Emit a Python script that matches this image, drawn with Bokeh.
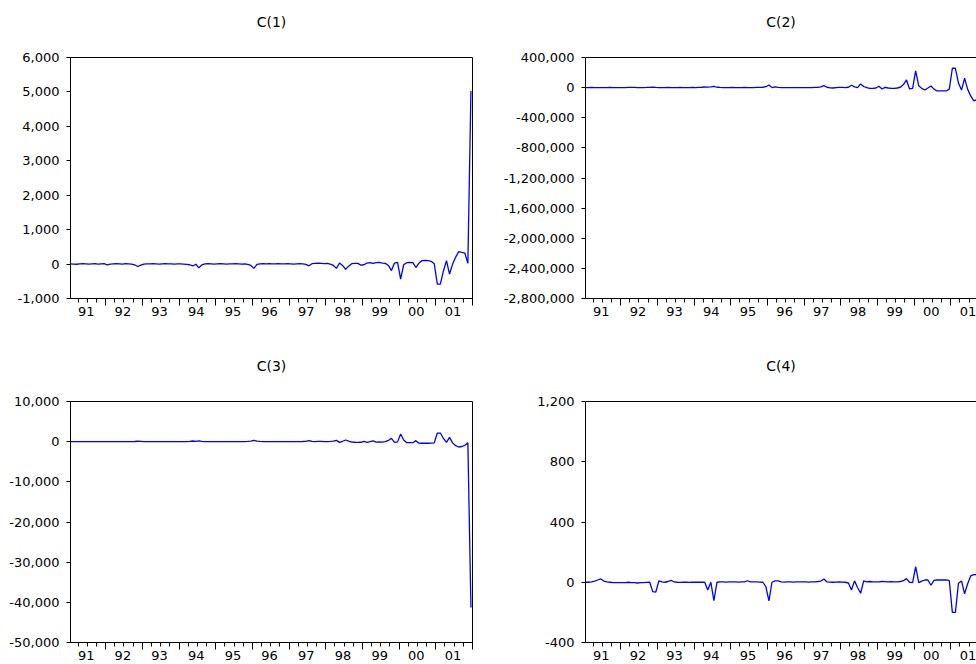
from bokeh.plotting import figure
from bokeh.layouts import row, column
from bokeh.models import Range1d, FixedTicker, LinearAxis, NumeralTickFormatter, Title
from bokeh.embed import file_html
from bokeh.resources import INLINE

FONT = "DejaVu Sans"
FS = "13px"
TITLE_FS = "14px"

YEARS = list(range(1991, 2002))
YEAR_LABELS = ["91", "92", "93", "94", "95", "96", "97", "98", "99", "00", "01"]

# monthly observations 1991M01 .. 2001M12 (placed mid-month on a year axis)
dates = [y + (m + 0.5) / 12.0 for y in YEARS for m in range(12)]

c1 = [
    5, 0, -5, 5, 10, 5, 0, 5, 10, 0, 5, 10,
    -20, 0, 5, 10, 5, 0, 10, 5, 0, -20, -70, -30,
    0, 5, 5, 10, 5, 0, 5, 10, 5, 5, 0, 5,
    5, 0, -10, -20, -55, -5, -110, -20, 5, 10, 5, 0,
    5, 10, 5, 0, 5, 5, 10, 5, 0, 5, -10, -40,
    -125, -10, 5, 10, 5, 10, 5, 5, 10, 5, 5, 10,
    5, 0, 5, 10, 5, -10, -50, 10, 20, 25, 20, 15,
    20, 0, -40, -125, 30, -40, -150, -60, 10, 20, 20, -30,
    -20, 30, 40, 20, 40, 50, 30, 20, -40, -190, 30, 50,
    -435, -20, 40, 50, 40, -100, 30, 100, 110, 100, 80, 10,
    -580, -580, -200, 100, -290, 0, 200, 360, 340, 320, 20, 5030,
]

c2 = [
    0, 1000, 2000, 1000, 0, -1000, 0, 1000, 2000, 1000, 0, 1000,
    0, 1000, 2000, 3000, 2000, 1000, 0, 1000, 2000, 4000, 6000, 3000,
    1000, 0, 1000, 2000, 1000, 0, 1000, 2000, 1000, 0, 1000, 2000,
    1000, 3000, 5000, 8000, 6000, 10000, 18000, 5000, 2000, 1000, 0, 1000,
    2000, 1000, 0, 1000, 2000, 1000, 0, 1000, 4000, 2000, 5000, 12000,
    35000, 0, 9000, 2000, 0, -1000, 0, 1000, 0, -1000, 0, 1000,
    0, -1000, 0, 2000, 4000, 10000, 27000, 5000, -3000, -5000, 0, 2000,
    3000, 0, 5000, 31000, 10000, 0, 49000, 15000, 0, -9000, -9000, -5000,
    18000, -18000, 4000, -5000, -9000, -9000, -5000, 5000, 40000, 102000, -18000, -10000,
    221000, 25000, -10000, -31000, -5000, 22000, -20000, -44000, -44000, -44000, -44000, -20000,
    257000, 257000, 60000, -33000, 124000, -20000, -110000, -176000, -160000, -150000, -120000, -2550000,
]

c3 = [
    20, 10, 0, 10, 20, 10, 0, 10, 20, 10, 0, 10,
    10, 20, 10, 0, 10, 20, 30, 20, 10, 40, 100, 60,
    20, 10, 0, 10, 20, 10, 0, 10, 10, 0, 10, 20,
    20, 10, 30, 80, 170, 60, 200, 80, 20, 10, 0, 10,
    10, 0, 20, 10, 0, 10, 20, 10, 0, 20, 60, 150,
    330, 120, 50, 20, 10, 0, 10, 20, 10, 0, 10, 20,
    10, 0, 10, 20, 40, 80, 250, 60, 20, 50, 80, 30,
    20, 60, 120, 330, -170, 100, 415, 150, -100, -150, -180, -150,
    100, -170, 0, 200, -100, -50, -100, 0, 300, 830, -170, -50,
    1900, 415, -250, -250, -250, 250, -380, -400, -400, -400, -380, -300,
    2150, 2150, 800, -170, 1080, -300, -1000, -1330, -1200, -900, -300, -41300,
]

c4 = [
    0, 0, 2, 8, 15, 22, 8, 2, 0, -2, -3, -2,
    -3, -2, 0, -2, -3, -5, -3, -2, -1, 0, -62, -65,
    9, 2, 0, 5, 13, 2, 0, -1, 0, 0, -1, 0,
    0, 0, 1, 0, -51, 0, -122, 0, 2, 2, 1, 2,
    3, 2, 1, 2, 3, 10, 3, 2, 2, 1, 0, -29,
    -124, 0, 9, 9, 2, 1, 3, 2, 1, 2, 3, 2,
    2, 1, 2, 3, 5, 8, 22, 2, 1, 0, 1, 2,
    1, 0, -5, -51, 9, -35, -73, 9, 3, 5, 3, 2,
    3, 5, 4, 3, 4, 2, 3, 5, 10, 24, 0, -2,
    104, -2, 8, 15, 15, -20, 12, 15, 15, 15, 16, 10,
    -200, -200, -7, 9, -77, -10, 42, 51, 51, 45, 30, 1050,
]

Y1 = (-1000, 6000, 1000)
Y2 = (-2800000, 400000, 400000)
Y3 = (-50000, 10000, 10000)
Y4 = (-400, 1200, 400)

T0 = dates[0]
X_END_FULL = 2002.001
X_END_RIGHT = 2001.70

year_ticks = [y + 1.0 for y in YEARS]
quarter_ticks = [y + q / 4.0 for y in YEARS for q in (1, 2, 3)]
label_ticks = [y + 0.47 for y in YEARS]


def bare_axis(axis):
    axis.major_tick_out = 0
    axis.major_tick_in = 0
    axis.minor_tick_out = 0
    axis.minor_tick_in = 0
    axis.major_tick_line_color = None
    axis.minor_tick_line_color = None


def panel(title, values, yspec, width, height, left, right, top, bottom, x_end, full_frame):
    ylo, yhi, ystep = yspec
    p = figure(width=width, height=height,
               x_range=Range1d(T0, x_end), y_range=Range1d(ylo, yhi),
               output_backend="svg", toolbar_location=None,
               x_axis_location=None, y_axis_location=None,
               min_border_left=left, min_border_right=right,
               min_border_top=top, min_border_bottom=bottom)
    p.title = None
    p.xgrid.visible = False
    p.ygrid.visible = False
    p.background_fill_color = "white"
    p.border_fill_color = "white"
    if full_frame:
        p.outline_line_color = "black"
        p.outline_line_alpha = 1.0
        p.outline_line_width = 1
    else:
        p.outline_line_color = None

    # spacer between frame and title (one invisible tick reserves the room);
    # on the right panels its line is the top edge of the frame
    top_axis = LinearAxis(ticker=FixedTicker(ticks=[1996.0], minor_ticks=[]))
    bare_axis(top_axis)
    top_axis.major_tick_out = 28
    top_axis.axis_line_color = None if full_frame else "black"
    top_axis.major_label_standoff = 0
    top_axis.major_label_text_font_size = "0px"
    top_axis.major_label_text_color = None
    p.add_layout(top_axis, "above")

    p.add_layout(Title(text=title, align="center", standoff=0,
                       text_font=FONT, text_font_size=TITLE_FS,
                       text_font_style="normal", text_color="black"), "above")

    # x axis: year boundary ticks + quarterly minor ticks, labels not drawn
    xa = LinearAxis(ticker=FixedTicker(ticks=year_ticks, minor_ticks=quarter_ticks))
    xa.major_tick_out = 7
    xa.major_tick_in = 0
    xa.minor_tick_out = 4
    xa.minor_tick_in = 0
    xa.major_tick_line_color = "black"
    xa.minor_tick_line_color = "black"
    xa.axis_line_color = "black"
    xa.major_label_text_font_size = "0px"
    xa.major_label_text_color = None
    xa.major_label_standoff = 0
    p.add_layout(xa, "below")

    # year labels centred within each year
    xl = LinearAxis(ticker=FixedTicker(ticks=label_ticks, minor_ticks=[]),
                    major_label_overrides={t: s for t, s in zip(label_ticks, YEAR_LABELS)})
    bare_axis(xl)
    xl.axis_line_color = None
    xl.major_label_standoff = 1
    xl.major_label_text_font = FONT
    xl.major_label_text_font_size = FS
    xl.major_label_text_color = "black"
    p.add_layout(xl, "below")

    ya = LinearAxis(ticker=FixedTicker(ticks=list(range(ylo, yhi + ystep, ystep)), minor_ticks=[]),
                    formatter=NumeralTickFormatter(format="0,0"))
    ya.major_tick_out = 4
    ya.major_tick_in = 0
    ya.minor_tick_out = 0
    ya.minor_tick_in = 0
    ya.minor_tick_line_color = None
    ya.major_tick_line_color = "black"
    ya.axis_line_color = "black"
    ya.major_label_standoff = 7
    ya.major_label_text_font = FONT
    ya.major_label_text_font_size = FS
    ya.major_label_text_color = "black"
    p.add_layout(ya, "left")

    p.line(dates, values, line_color="#0000FF", line_width=1.3)
    return p


p1 = panel("C(1)", c1, Y1, 490, 340, 70, 18, 57, 42, X_END_FULL, True)
p2 = panel("C(2)", c2, Y2, 486, 340, 95, 0, 57, 42, X_END_RIGHT, False)
p3 = panel("C(3)", c3, Y3, 490, 324, 70, 18, 61, 22, X_END_FULL, True)
p4 = panel("C(4)", c4, Y4, 486, 324, 95, 0, 61, 22, X_END_RIGHT, False)

layout = column(row(p1, p2), row(p3, p4))
layout.spacing = 0

open("out.html", "w").write(file_html(layout, INLINE))
